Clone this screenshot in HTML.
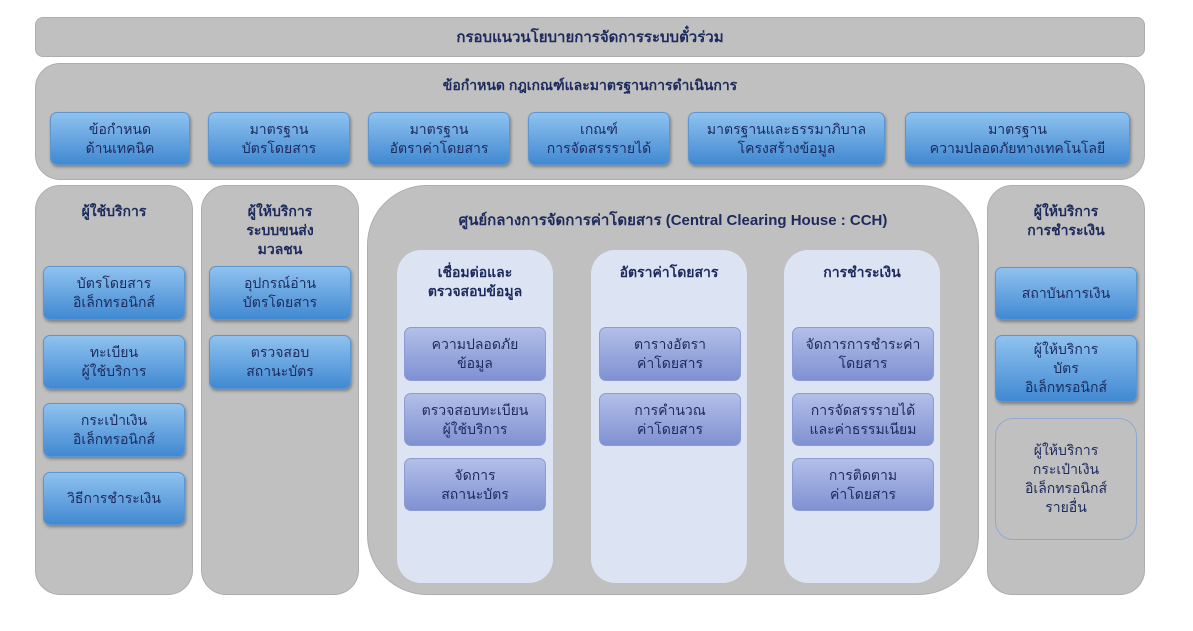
<!DOCTYPE html>
<html><head><meta charset="utf-8"><style>
body{margin:0;width:1193px;height:631px;background:#fff;position:relative;overflow:hidden;font-family:"Liberation Sans","DejaVu Sans",sans-serif;color:#1c2a5c;}
div{position:absolute;box-sizing:border-box;}
.g{background:#c0c0c0;border:1px solid #adadad;}
.t{display:flex;align-items:center;justify-content:center;text-align:center;font-size:14px;line-height:19px;font-weight:bold;}
.b{background:linear-gradient(#8fc2ef,#4189d2);border:1px solid #5d95cf;border-radius:7px;box-shadow:1px 2px 3px rgba(0,0,0,.35);font-weight:normal;color:#1c2a5c;}
.p{background:linear-gradient(#b3bfe8,#7f91d2);border:1px solid #8d9bd3;border-radius:7px;font-weight:normal;}
.pan{background:#dce4f4;border-radius:24px;}
.h{font-size:14px;font-weight:bold;text-align:center;line-height:19px;}
</style></head><body>
<div class="g t" style="left:35px;top:17px;width:1110px;height:40px;border-radius:8px;font-size:15px;">กรอบแนวนโยบายการจัดการระบบตั๋วร่วม</div>
<div class="g" style="left:35px;top:63px;width:1110px;height:117px;border-radius:25px;"></div>
<div class="h" style="left:35px;top:76px;width:1110px;">ข้อกำหนด กฎเกณฑ์และมาตรฐานการดำเนินการ</div>
<div class="t b" style="left:50px;top:112px;width:140px;height:53px;">ข้อกำหนด<br>ด้านเทคนิค</div>
<div class="t b" style="left:208px;top:112px;width:142px;height:53px;">มาตรฐาน<br>บัตรโดยสาร</div>
<div class="t b" style="left:368px;top:112px;width:142px;height:53px;">มาตรฐาน<br>อัตราค่าโดยสาร</div>
<div class="t b" style="left:528px;top:112px;width:142px;height:53px;">เกณฑ์<br>การจัดสรรรายได้</div>
<div class="t b" style="left:688px;top:112px;width:197px;height:53px;">มาตรฐานและธรรมาภิบาล<br>โครงสร้างข้อมูล</div>
<div class="t b" style="left:905px;top:112px;width:225px;height:53px;">มาตรฐาน<br>ความปลอดภัยทางเทคโนโลยี</div>

<div class="g" style="left:35px;top:185px;width:158px;height:410px;border-radius:25px;"></div>
<div class="h" style="left:35px;top:202px;width:158px;">ผู้ใช้บริการ</div>
<div class="t b" style="left:43px;top:266px;width:142px;height:54px;">บัตรโดยสาร<br>อิเล็กทรอนิกส์</div>
<div class="t b" style="left:43px;top:335px;width:142px;height:54px;">ทะเบียน<br>ผู้ใช้บริการ</div>
<div class="t b" style="left:43px;top:403px;width:142px;height:54px;">กระเป๋าเงิน<br>อิเล็กทรอนิกส์</div>
<div class="t b" style="left:43px;top:472px;width:142px;height:53px;">วิธีการชำระเงิน</div>

<div class="g" style="left:201px;top:185px;width:158px;height:410px;border-radius:25px;"></div>
<div class="h" style="left:201px;top:202px;width:158px;">ผู้ให้บริการ<br>ระบบขนส่ง<br>มวลชน</div>
<div class="t b" style="left:209px;top:266px;width:142px;height:54px;">อุปกรณ์อ่าน<br>บัตรโดยสาร</div>
<div class="t b" style="left:209px;top:335px;width:142px;height:54px;">ตรวจสอบ<br>สถานะบัตร</div>

<div class="g" style="left:367px;top:185px;width:612px;height:410px;border-radius:60px;"></div>
<div class="h" style="left:367px;top:211px;width:612px;font-size:15px;">ศูนย์กลางการจัดการค่าโดยสาร (Central Clearing House : CCH)</div>
<div class="pan" style="left:397px;top:250px;width:156px;height:333px;"></div>
<div class="h" style="left:397px;top:263px;width:156px;">เชื่อมต่อและ<br>ตรวจสอบข้อมูล</div>
<div class="t p" style="left:404px;top:327px;width:142px;height:54px;">ความปลอดภัย<br>ข้อมูล</div>
<div class="t p" style="left:404px;top:393px;width:142px;height:53px;">ตรวจสอบทะเบียน<br>ผู้ใช้บริการ</div>
<div class="t p" style="left:404px;top:458px;width:142px;height:53px;">จัดการ<br>สถานะบัตร</div>
<div class="pan" style="left:591px;top:250px;width:156px;height:333px;"></div>
<div class="h" style="left:591px;top:263px;width:156px;">อัตราค่าโดยสาร</div>
<div class="t p" style="left:599px;top:327px;width:142px;height:54px;">ตารางอัตรา<br>ค่าโดยสาร</div>
<div class="t p" style="left:599px;top:393px;width:142px;height:53px;">การคำนวณ<br>ค่าโดยสาร</div>
<div class="pan" style="left:784px;top:250px;width:156px;height:333px;"></div>
<div class="h" style="left:784px;top:263px;width:156px;">การชำระเงิน</div>
<div class="t p" style="left:792px;top:327px;width:142px;height:54px;">จัดการการชำระค่า<br>โดยสาร</div>
<div class="t p" style="left:792px;top:393px;width:142px;height:53px;">การจัดสรรรายได้<br>และค่าธรรมเนียม</div>
<div class="t p" style="left:792px;top:458px;width:142px;height:53px;">การติดตาม<br>ค่าโดยสาร</div>

<div class="g" style="left:987px;top:185px;width:158px;height:410px;border-radius:25px;"></div>
<div class="h" style="left:987px;top:202px;width:158px;">ผู้ให้บริการ<br>การชำระเงิน</div>
<div class="t b" style="left:995px;top:267px;width:142px;height:53px;">สถาบันการเงิน</div>
<div class="t b" style="left:995px;top:335px;width:142px;height:67px;">ผู้ให้บริการ<br>บัตร<br>อิเล็กทรอนิกส์</div>
<div class="t" style="left:995px;top:418px;width:142px;height:122px;border:1px solid #8fa8cf;border-radius:18px;font-weight:normal;">ผู้ให้บริการ<br>กระเป๋าเงิน<br>อิเล็กทรอนิกส์<br>รายอื่น</div>
</body></html>
